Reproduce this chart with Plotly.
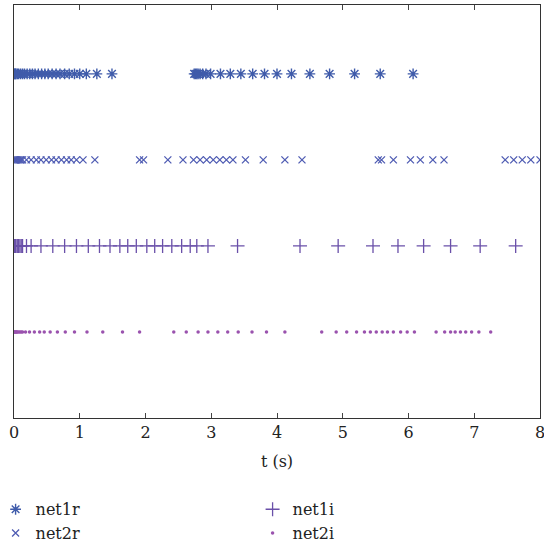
import plotly.graph_objects as go

# Event times (s) for each neuron/network
net1r_t = [0.0, 0.01, 0.02, 0.03, 0.05, 0.07, 0.1, 0.13, 0.16, 0.2, 0.24, 0.28, 0.32, 0.37,
           0.42, 0.47, 0.52, 0.58, 0.64, 0.7, 0.77, 0.84, 0.92, 1.0, 1.1, 1.26, 1.49,
           2.74, 2.76, 2.78, 2.8, 2.83, 2.87, 2.92, 2.99, 3.14, 3.29, 3.45, 3.63, 3.81,
           4.0, 4.22, 4.5, 4.8, 5.18, 5.57, 6.07]
net2r_t = [0.0, 0.01, 0.02, 0.03, 0.05, 0.07, 0.09, 0.11, 0.13, 0.19, 0.26, 0.34, 0.41,
           0.49, 0.57, 0.64, 0.72, 0.8, 0.87, 0.95, 1.05, 1.23, 1.91, 1.97, 2.34, 2.57,
           2.73, 2.83, 2.93, 3.03, 3.13, 3.23, 3.33, 3.52, 3.79, 4.12, 4.38, 5.54, 5.59,
           5.77, 6.03, 6.18, 6.37, 6.54, 7.47, 7.6, 7.73, 7.86, 8.0]
net1i_t = [0.0, 0.01, 0.02, 0.03, 0.05, 0.07, 0.09, 0.11, 0.13, 0.19, 0.26, 0.41, 0.59,
           0.77, 0.95, 1.13, 1.3, 1.46, 1.61, 1.73, 1.86, 2.02, 2.14, 2.26, 2.4, 2.55,
           2.68, 2.78, 2.95, 3.4, 4.35, 4.93, 5.46, 5.84, 6.23, 6.64, 7.09, 7.63]
net2i_t = [0.0, 0.01, 0.02, 0.03, 0.04, 0.05, 0.07, 0.09, 0.11, 0.13, 0.175, 0.236, 0.31,
           0.39, 0.46, 0.55, 0.66, 0.78, 0.92, 1.11, 1.35, 1.65, 1.91, 2.43, 2.62, 2.8,
           2.95, 3.1, 3.25, 3.41, 3.62, 3.84, 4.12, 4.68, 4.9, 5.06, 5.21, 5.33, 5.42,
           5.51, 5.6, 5.68, 5.77, 5.88, 5.98, 6.09, 6.42, 6.55, 6.64, 6.71, 6.79, 6.87,
           6.96, 7.07, 7.25]

series = [
    ("net1r", net1r_t, 4, "asterisk-open", "#3F5BAA", 9, 1.4),
    ("net1i", net1i_t, 2, "cross-thin-open", "#6A50A9", 10, 1.3),
    ("net2r", net2r_t, 3, "x-thin-open", "#4F5CB3", 7, 1.3),
    ("net2i", net2i_t, 1, "circle", "#9A52AE", 3.5, 0),
]

fig = go.Figure()
for name, t, row, sym, col, size, lw in series:
    fig.add_trace(go.Scatter(
        x=t, y=[row] * len(t), mode="markers", name=name,
        marker=dict(symbol=sym, size=size, color=col,
                    line=dict(color=col, width=lw)),
    ))

font = "DejaVu Serif, serif"
fs = 16
fig.update_layout(
    width=544, height=552,
    margin=dict(l=14, r=4, t=5, b=134, autoexpand=False),
    paper_bgcolor="white", plot_bgcolor="white",
    font=dict(family=font, size=fs, color="#222"),
    xaxis=dict(range=[0, 8], tickvals=list(range(9)), ticks="inside", ticklen=5,
               tickcolor="#444", showline=True, linecolor="#333", linewidth=1,
               mirror="ticks", showgrid=False, zeroline=False,
               ticklabeloverflow="allow",
               title=dict(text="t (s)", standoff=14, font=dict(family=font, size=fs)),
               tickfont=dict(family=font, size=fs)),
    yaxis=dict(range=[0, 4.8], showticklabels=False, ticks="", showline=True,
               linecolor="#333", linewidth=1, mirror=True, showgrid=False,
               zeroline=False),
    legend=dict(orientation="h", x=-0.035, xanchor="left", y=-0.18, yanchor="top",
                entrywidth=212, entrywidthmode="pixels", traceorder="normal",
                font=dict(family=font, size=fs), itemwidth=30, tracegroupgap=0),
    showlegend=True,
)

fig.write_html("out.html")
